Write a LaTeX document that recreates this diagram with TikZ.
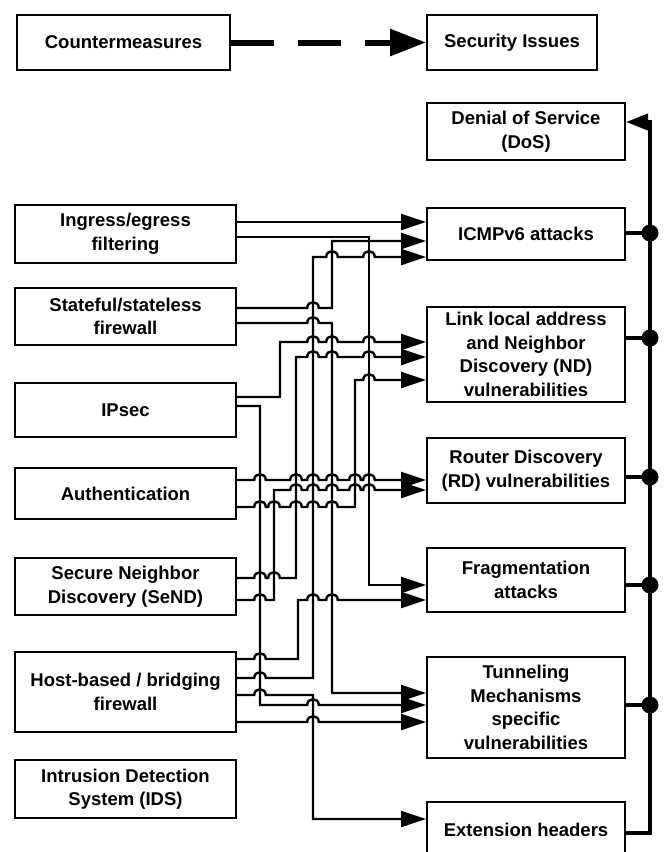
\documentclass[tikz,border=0pt]{standalone}
\usepackage{fontspec}
\setmainfont{Liberation Sans}
\usetikzlibrary{arrows.meta}
\newcommand\hp[2]{-- (#1-5.8,#2) .. controls (#1-5.8,#2-7.7) and (#1+5.8,#2-7.7) .. (#1+5.8,#2)}
\begin{document}
\begin{tikzpicture}[x=1pt,y=-1pt,
  box/.style={draw,line width=2pt,inner sep=0pt,align=center,
    font=\bfseries\fontsize{18.5}{23.5}\selectfont},
  lbox/.style={box,minimum width=221pt},
  rbox/.style={box,minimum width=198pt},
  wire/.style={line width=2.4pt,-{Triangle[length=25pt,width=16pt]}},
  bus/.style={line width=4pt},
  dot/.style={fill=black}]
\useasboundingbox (0,0) rectangle (664,852);
\fill[white] (0,0) rectangle (664,852);
% top legend
\node[box,minimum width=213pt,minimum height=55pt] (cm) at (123.5,42.5) {Countermeasures};
\node[box,minimum width=170pt,minimum height=55pt] (si) at (512,42.5) {Security Issues};
\draw[line width=6pt,dash pattern=on 43pt off 24pt,-{Triangle[length=36pt,width=26pt]}] (cm.east) -- (si.west);
% left column
\node[lbox,minimum height=58pt] (ing) at (125.5,234) {Ingress/egress\\filtering};
\node[lbox,minimum height=57pt] (st) at (125.5,316.5) {Stateful/stateless\\firewall};
\node[lbox,minimum height=54pt] (ips) at (125.5,410) {IPsec};
\node[lbox,minimum height=51pt] (auth) at (125.5,493.5) {Authentication};
\node[lbox,minimum height=57pt] (send) at (125.5,586.5) {Secure Neighbor\\Discovery (SeND)};
\node[lbox,minimum height=80pt] (host) at (125.5,692) {Host-based / bridging\\firewall};
\node[lbox,minimum height=58pt] (ids) at (125.5,789) {Intrusion Detection\\System (IDS)};
% right column
\node[rbox,minimum height=57pt] (dos) at (526,131.5) {Denial of Service\\(DoS)};
\node[rbox,minimum height=52pt] (icmp) at (526,234) {ICMPv6 attacks};
\node[rbox,minimum height=95pt] (link) at (526,354.5) {Link local address\\and Neighbor\\Discovery (ND)\\vulnerabilities};
\node[rbox,minimum height=65pt] (rd) at (526,470.5) {Router Discovery\\(RD) vulnerabilities};
\node[rbox,minimum height=64pt] (frag) at (526,580) {Fragmentation\\attacks};
\node[rbox,minimum height=101pt] (tun) at (526,707.5) {Tunneling\\Mechanisms\\specific\\vulnerabilities};
\node[rbox,minimum height=56pt] (ext) at (526,830) {Extension headers};
% bus
\draw[bus,-{Triangle[length=22pt,width=16pt]}] (ext.east |- 0,833) -- (650,833) -- (650,122) -- (dos.east |- 0,122);
\foreach \b/\yy in {icmp/233,link/338,rd/477,frag/585,tun/705}{
  \draw[bus] (\b.east |- 0,\yy) -- (650,\yy);
  \fill[dot] (650,\yy) circle[radius=8.5pt];
}
% wires
\draw[wire] (ing.east |- 0,222) -- (icmp.west |- 0,222);
\draw[wire] (ing.east |- 0,237) -- (369,237) -- (369,585) -- (frag.west |- 0,585);
\draw[wire] (st.east |- 0,308) \hp{313}{308} -- (332,308) -- (332,241) -- (icmp.west |- 0,241);
\draw[wire] (st.east |- 0,323) \hp{313}{323} -- (332,323) -- (332,693) -- (tun.west |- 0,693);
\draw[wire] (host.east |- 0,678) \hp{260}{678} -- (313,678) -- (313,257) \hp{332}{257} \hp{369}{257} -- (icmp.west |- 0,257);
\draw[wire] (ips.east |- 0,397) -- (280,397) -- (280,342) \hp{313}{342} \hp{332}{342} \hp{369}{342} -- (link.west |- 0,342);
\draw[wire] (send.east |- 0,578) \hp{260}{578} \hp{274}{578} -- (296,578) -- (296,357) \hp{313}{357} \hp{332}{357} \hp{369}{357} -- (link.west |- 0,357);
\draw[wire] (auth.east |- 0,507) \hp{260}{507} \hp{274}{507} \hp{296}{507} \hp{313}{507} \hp{332}{507} -- (355,507) -- (355,380) \hp{369}{380} -- (link.west |- 0,380);
\draw[wire] (ips.east |- 0,406) -- (260,406) -- (260,705) \hp{313}{705} -- (tun.west |- 0,705);
\draw[wire] (auth.east |- 0,480) \hp{260}{480} \hp{296}{480} \hp{313}{480} \hp{332}{480} \hp{355}{480} \hp{369}{480} -- (rd.west |- 0,480);
\draw[wire] (send.east |- 0,600) \hp{260}{600} -- (274,600) -- (274,490) \hp{296}{490} \hp{313}{490} \hp{332}{490} \hp{355}{490} \hp{369}{490} -- (rd.west |- 0,490);
\draw[wire] (host.east |- 0,659) \hp{260}{659} -- (298,659) -- (298,600) \hp{313}{600} \hp{332}{600} -- (frag.west |- 0,600);
\draw[wire] (host.east |- 0,695) \hp{260}{695} -- (313,695) -- (313,819) -- (ext.west |- 0,819);
\draw[wire] (host.east |- 0,722) \hp{313}{722} -- (tun.west |- 0,722);
\end{tikzpicture}
\end{document}
